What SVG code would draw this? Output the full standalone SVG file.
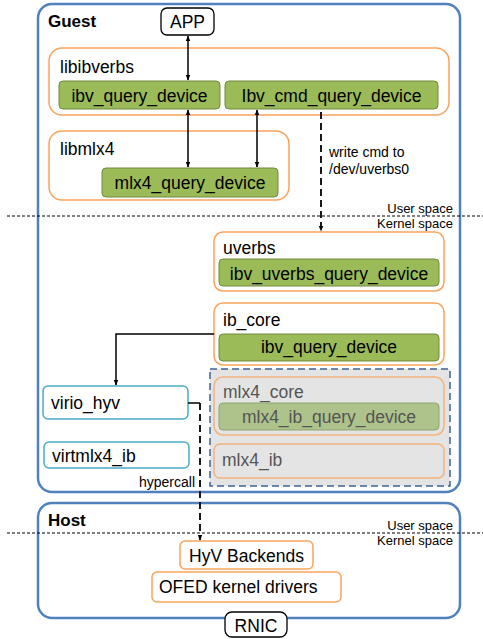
<svg xmlns="http://www.w3.org/2000/svg" width="483" height="639" viewBox="0 0 483 639">
  <style>
    text { font-family: "Liberation Sans", Arial, sans-serif; fill: #000; }
    .t { font-size: 17.5px; }
    .tm { font-size: 17.5px; text-anchor: middle; }
    .small { font-size: 13px; }
    .note { font-size: 14px; }
    .bold { font-size: 17px; font-weight: bold; }
    .grey { fill: #555; }
    .region { fill: #fff; stroke: #4f81bd; stroke-width: 2.5; }
    .layer { fill: #fff; stroke: #f8a45c; stroke-width: 1.5; }
    .layer-dim { fill: #e4e4e4; stroke: #f2b37c; stroke-width: 1.5; }
    .fn { fill: #9bbb59; stroke: #71893f; stroke-width: 1; }
    .fn-dim { fill: #aec28b; stroke: #8fa56c; stroke-width: 1; }
    .drv { fill: #fff; stroke: #4bacc6; stroke-width: 1.5; }
    .term { fill: #fff; stroke: #000; stroke-width: 1.3; }
    .sep { stroke: #000; stroke-width: 1; stroke-dasharray: 3 2; }
    .link { fill: none; stroke: #000; stroke-width: 1.5; }
    .dash { fill: none; stroke: #000; stroke-width: 1.8; stroke-dasharray: 7 4; }
  </style>
  <defs>
    <marker id="ah" viewBox="0 0 10 10" refX="9" refY="5" markerWidth="6" markerHeight="6" orient="auto-start-reverse" markerUnits="userSpaceOnUse">
      <path d="M0,1 L10,5 L0,9 z" fill="#000"/>
    </marker>
  </defs>

  <!-- Guest VM -->
  <g id="guest">
    <rect class="region" x="38" y="4" width="422" height="488" rx="14"/>
    <text class="bold" x="48" y="27">Guest</text>
  </g>

  <!-- Host -->
  <g id="host">
    <rect class="region" x="38" y="503" width="422" height="115" rx="14"/>
    <text class="bold" x="48" y="526">Host</text>
  </g>

  <!-- user / kernel separators -->
  <g id="space-split">
    <line class="sep" x1="7" y1="216" x2="483" y2="216"/>
    <text class="small" x="453" y="213" text-anchor="end">User space</text>
    <text class="small" x="453" y="228" text-anchor="end">Kernel space</text>
    <line class="sep" x1="7" y1="533" x2="483" y2="533"/>
    <text class="small" x="453" y="530" text-anchor="end">User space</text>
    <text class="small" x="453" y="545" text-anchor="end">Kernel space</text>
  </g>

  <g id="app">
    <rect class="term" x="161" y="8" width="53" height="27" rx="6"/>
    <text class="tm" x="187.5" y="28">APP</text>
  </g>

  <g id="libibverbs">
    <rect class="layer" x="49" y="48" width="400" height="67" rx="13"/>
    <text class="t" x="60" y="73">libibverbs</text>
    <rect class="fn" x="59" y="81" width="161" height="28" rx="4"/>
    <text class="tm" x="139.5" y="102">ibv_query_device</text>
    <rect class="fn" x="225" y="81" width="213" height="28" rx="4"/>
    <text class="tm" x="331.5" y="102">Ibv_cmd_query_device</text>
  </g>

  <g id="libmlx4">
    <rect class="layer" x="49" y="131" width="240" height="69" rx="13"/>
    <text class="t" x="60" y="155">libmlx4</text>
    <rect class="fn" x="102" y="168" width="176" height="29" rx="4"/>
    <text class="tm" x="190" y="189">mlx4_query_device</text>
  </g>

  <g id="uverbs">
    <rect class="layer" x="214" y="232" width="230" height="59" rx="9"/>
    <text class="t" x="223" y="254">uverbs</text>
    <rect class="fn" x="219" y="259" width="220" height="27" rx="4"/>
    <text class="tm" x="329" y="280">ibv_uverbs_query_device</text>
  </g>

  <g id="ib_core">
    <rect class="layer" x="214" y="303" width="230" height="62" rx="9"/>
    <text class="t" x="223" y="326">ib_core</text>
    <rect class="fn" x="219" y="334" width="220" height="27" rx="4"/>
    <text class="tm" x="329" y="353">ibv_query_device</text>
  </g>

  <!-- unused native driver stack -->
  <g id="native-drivers">
    <rect x="210" y="369" width="240" height="117" fill="#e4e4e4" stroke="#3e6494" stroke-width="1.5" stroke-dasharray="7 4"/>
    <rect class="layer-dim" x="214" y="377" width="230" height="58" rx="9"/>
    <text class="t grey" x="223" y="398">mlx4_core</text>
    <rect class="fn-dim" x="219" y="403" width="220" height="27" rx="4"/>
    <text class="tm grey" x="329" y="423">mlx4_ib_query_device</text>
    <rect class="layer-dim" x="214" y="444" width="230" height="34" rx="6"/>
    <text class="t grey" x="222" y="466">mlx4_ib</text>
  </g>

  <g id="virio_hyv">
    <rect class="drv" x="43" y="386" width="145" height="33" rx="5"/>
    <text class="t" x="51" y="409">virio_hyv</text>
  </g>

  <g id="virtmlx4_ib">
    <rect class="drv" x="44" y="442" width="145" height="26" rx="5"/>
    <text class="t" x="52" y="462">virtmlx4_ib</text>
  </g>

  <g id="hyv_backends">
    <rect class="layer" x="180" y="541" width="133" height="28" rx="5"/>
    <text class="tm" x="246.5" y="562">HyV Backends</text>
  </g>

  <g id="ofed">
    <rect class="layer" x="152" y="572" width="189" height="30" rx="5"/>
    <text class="t" x="159" y="593">OFED kernel drivers</text>
  </g>

  <g id="rnic">
    <rect class="term" x="225" y="612" width="62" height="25" rx="7"/>
    <text class="tm" x="256" y="632">RNIC</text>
  </g>

  <g id="connectors">
    <line class="link" x1="188" y1="36" x2="188" y2="80" marker-start="url(#ah)" marker-end="url(#ah)"/>
    <line class="link" x1="188" y1="110" x2="188" y2="167" marker-start="url(#ah)" marker-end="url(#ah)"/>
    <line class="link" x1="257" y1="110" x2="257" y2="167" marker-start="url(#ah)" marker-end="url(#ah)"/>
    <line class="dash" x1="321" y1="112" x2="321" y2="231" marker-end="url(#ah)"/>
    <text class="note" x="329" y="157">write cmd to</text>
    <text class="note" x="329" y="174">/dev/uverbs0</text>
    <polyline class="link" points="214,334 116,334 116,385" marker-end="url(#ah)"/>
    <line class="link" x1="188" y1="403" x2="200" y2="403"/>
    <line class="dash" x1="200" y1="403" x2="200" y2="540" marker-end="url(#ah)"/>
    <text class="note" x="195" y="487" text-anchor="end">hypercall</text>
  </g>
</svg>
